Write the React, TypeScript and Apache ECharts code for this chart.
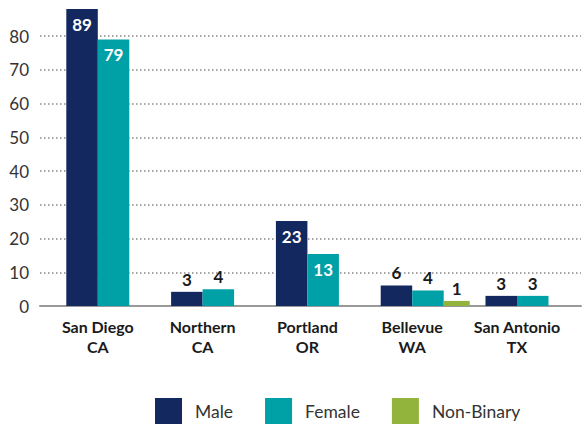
import React, { useEffect, useRef } from "react";
import * as echarts from "echarts";

const categories = ["San Diego\nCA", "Northern\nCA", "Portland\nOR", "Bellevue\nWA", "San Antonio\nTX"];
// bar heights as drawn
const maleBars = [88, 4.2, 25.2, 6.1, 3];
const femaleBars = [79, 5, 15.4, 4.6, 3];
const nonBinaryBars = [null, null, null, 1.5, null];
// printed labels
const maleLabels = [89, 3, 23, 6, 3];
const femaleLabels = [79, 4, 13, 4, 3];
const nonBinaryLabels = [null, null, null, 1, null];
const yTicks = [0, 10, 20, 30, 40, 50, 60, 70, 80];

const COLORS = { male: "#13285f", female: "#00a0a7", nb: "#92b33c" };
const FONT = "Lato, 'Noto Sans', sans-serif";

function mkData(vals: (number | null)[], labels: (number | null)[]) {
  return vals.map((v, i) => {
    if (v == null) return null;
    const big = v > 10;
    return {
      value: v,
      label: {
        show: true,
        formatter: String(labels[i]),
        position: big ? "insideTop" : "top",
        distance: big ? 7 : 4,
        color: big ? "#ffffff" : "#1a1a1a",
        fontSize: 17,
        fontWeight: "bold",
        fontFamily: FONT,
      },
    };
  });
}

export default function App() {
  const ref = useRef<HTMLDivElement>(null);
  useEffect(() => {
    if (!ref.current) return;
    const chart = echarts.init(ref.current, null, { renderer: "svg" });
    const zeroY = 306;
    const pxPerUnit = 270 / 80;
    const barMax = 90;
    const barTop = zeroY - barMax * pxPerUnit;
    const bottom = 425 - zeroY;
    const labelLeft = 45.4;
    const labelRight = 14.6;
    const shift = 13; // half of the non-binary bar width
    chart.setOption({
      animation: false,
      backgroundColor: "#ffffff",
      legend: {
        data: ["Male", "Female", "Non-Binary"],
        left: 150,
        top: 393,
        itemWidth: 27,
        itemHeight: 26,
        itemGap: 32,
        icon: "rect",
        textStyle: { fontSize: 17.5, color: "#333", fontFamily: FONT, padding: [0, 0, 0, 8] },
      },
      grid: [
        { left: 40, right: 3, top: 36, bottom },
        { left: labelLeft, right: labelRight, top: 36, bottom },
        { left: labelLeft + shift, right: labelRight - shift, top: barTop, bottom },
      ],
      xAxis: [
        {
          gridIndex: 0,
          type: "category",
          data: categories,
          axisLine: { show: true, lineStyle: { color: "#999", width: 2 } },
          axisTick: { show: false },
          axisLabel: { show: false },
        },
        {
          gridIndex: 1,
          type: "category",
          data: categories,
          axisLine: { show: false },
          axisTick: { show: false },
          axisLabel: {
            show: true,
            interval: 0,
            margin: 10,
            fontSize: 16,
            fontWeight: "bold",
            lineHeight: 20,
            color: "#1a1a1a",
            fontFamily: FONT,
          },
        },
        {
          gridIndex: 2,
          type: "category",
          data: categories,
          axisLine: { show: false },
          axisTick: { show: false },
          axisLabel: { show: false },
        },
      ],
      yAxis: [
        {
          gridIndex: 0,
          type: "value",
          min: yTicks[0],
          max: yTicks[yTicks.length - 1],
          interval: 10,
          axisLine: { show: false },
          axisTick: { show: false },
          axisLabel: { fontSize: 17, color: "#333", margin: 11, fontFamily: FONT },
          splitLine: { show: true, lineStyle: { type: [1.5, 2.5], color: "#888", width: 1.5 } },
        },
        { gridIndex: 1, type: "value", min: 0, max: 80, show: false },
        { gridIndex: 2, type: "value", min: 0, max: barMax, show: false },
      ],
      series: [
        {
          name: "Male",
          type: "bar",
          xAxisIndex: 2,
          yAxisIndex: 2,
          barWidth: 31.5,
          barGap: "0%",
          itemStyle: { color: COLORS.male },
          data: mkData(maleBars, maleLabels),
        },
        {
          name: "Female",
          type: "bar",
          xAxisIndex: 2,
          yAxisIndex: 2,
          barWidth: 31.5,
          barGap: "0%",
          itemStyle: { color: COLORS.female },
          data: mkData(femaleBars, femaleLabels),
        },
        {
          name: "Non-Binary",
          type: "bar",
          xAxisIndex: 2,
          yAxisIndex: 2,
          barWidth: 26,
          barGap: "0%",
          itemStyle: { color: COLORS.nb },
          data: mkData(nonBinaryBars, nonBinaryLabels),
        },
      ],
    });
    return () => chart.dispose();
  }, []);
  return (
    <div
      ref={ref}
      style={{ position: "fixed", left: 0, top: 0, width: 584, height: 425 }}
    />
  );
}
